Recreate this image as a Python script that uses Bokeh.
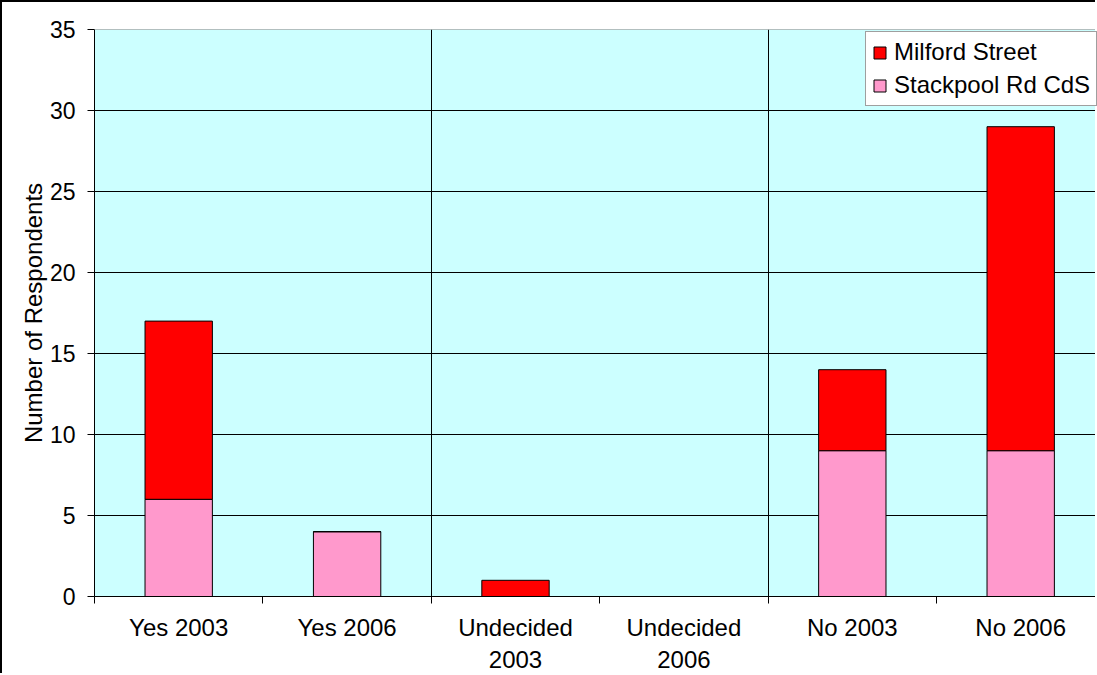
from bokeh.plotting import figure
from bokeh.models import ColumnDataSource, FixedTicker, Range1d, Legend, LegendItem, Span
from bokeh.embed import file_html
from bokeh.resources import INLINE

categories = ["Yes 2003", "Yes 2006", "Undecided\n2003", "Undecided\n2006", "No 2003", "No 2006"]
stackpool = [6, 4, 0, 0, 9, 9]
milford = [11, 0, 1, 0, 5, 20]
series_names = ["Stackpool Rd CdS", "Milford Street"]
series_colors = ["#FF99CC", "#FF0000"]
y_ticks = [0, 5, 10, 15, 20, 25, 30, 35]
y_label = "Number of Respondents"

centers = [i + 0.5 for i in range(len(categories))]
bounds = list(range(len(categories) + 1))

source = ColumnDataSource(dict(x=centers, stackpool=stackpool, milford=milford))

FONT = "Liberation Sans"

p = figure(width=1095, height=673, x_range=Range1d(0, 5.956), y_range=Range1d(0, 35),
           output_backend="svg", toolbar_location=None,
           min_border_left=92, min_border_right=0, min_border_top=27, min_border_bottom=79)
p.styles = {"border-left": "2px solid black", "border-top": "2px solid black"}

p.background_fill_color = "#CCFFFF"
p.border_fill_color = "white"
p.outline_line_color = None

# top edge of the plot area (grey, as in the reference)
p.add_layout(Span(location=y_ticks[-1], dimension="width", line_color="#808080", line_width=1))

rs = p.vbar_stack(["stackpool", "milford"], x="x", width=0.4, source=source,
                  fill_color=series_colors, line_color="black", line_width=1)

# grids
p.ygrid.ticker = FixedTicker(ticks=y_ticks[1:-1])
p.ygrid.grid_line_color = "black"
p.ygrid.grid_line_width = 1
p.xgrid.ticker = FixedTicker(ticks=[2, 4])
p.xgrid.grid_line_color = "black"
p.xgrid.grid_line_width = 1

# x axis
xa = p.xaxis[0]
xa.ticker = FixedTicker(ticks=centers, minor_ticks=bounds)
xa.major_label_overrides = {c: lab for c, lab in zip(centers, categories)}
xa.major_tick_out = 0
xa.major_tick_in = 0
xa.minor_tick_out = 7
xa.minor_tick_in = 0
xa.minor_tick_line_color = "black"
xa.axis_line_color = "black"
xa.major_label_text_font = FONT
xa.major_label_text_font_size = "24px"
xa.major_label_text_color = "black"
xa.major_label_standoff = 10

# y axis
ya = p.yaxis[0]
ya.ticker = FixedTicker(ticks=y_ticks)
ya.major_tick_out = 7
ya.major_tick_in = 0
ya.minor_tick_line_color = None
ya.axis_line_color = "black"
ya.major_label_text_font = FONT
ya.major_label_text_font_size = "23px"
ya.major_label_text_color = "black"
ya.major_label_standoff = 12
ya.axis_label = y_label
ya.axis_label_text_font = FONT
ya.axis_label_text_font_size = "24px"
ya.axis_label_text_font_style = "normal"
ya.axis_label_text_color = "black"
ya.axis_label_standoff = 0

legend = Legend(items=[LegendItem(label=series_names[1], renderers=[rs[1]]),
                       LegendItem(label=series_names[0], renderers=[rs[0]])],
                location=(771, 490))
legend.label_text_font = FONT
legend.label_text_font_size = "24px"
legend.label_text_color = "black"
legend.glyph_width = 15
legend.glyph_height = 15
legend.label_standoff = 7
legend.padding = 6
legend.spacing = 5
legend.margin = 0
legend.border_line_color = "#404040"
legend.border_line_width = 1
legend.background_fill_color = "white"
legend.background_fill_alpha = 1
p.add_layout(legend)

open("out.html", "w").write(file_html(p, INLINE))
